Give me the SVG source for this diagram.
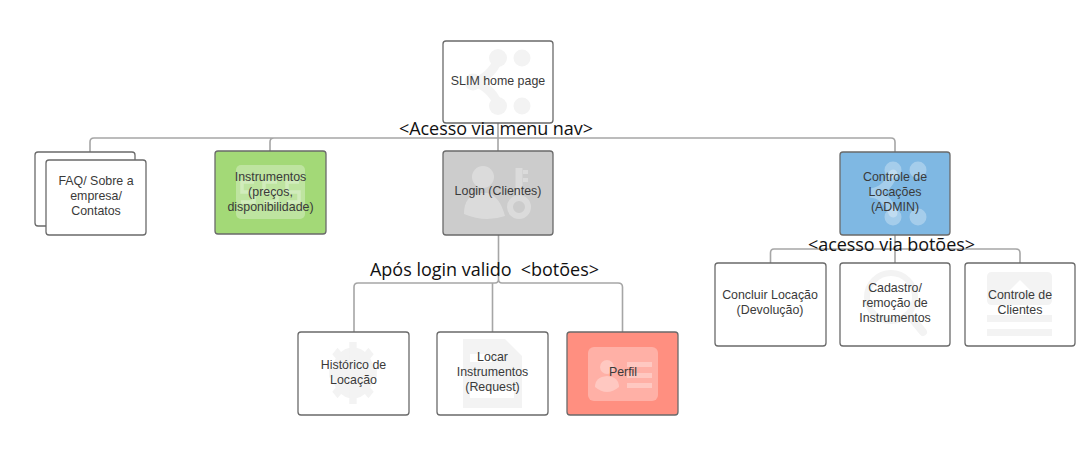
<svg xmlns="http://www.w3.org/2000/svg" width="1090" height="451" viewBox="0 0 1090 451">
<style>
.n{stroke:#6a6a6a;stroke-width:1.3;fill:#fff}
.c{fill:none;stroke:#a6a6a6;stroke-width:1.6}
.g{fill:#f3f3f3}
.wi{fill:#fff;fill-opacity:.3}
.gl{fill:none;stroke:#f3f3f3}
.wl{fill:none;stroke:#fff;stroke-opacity:.3}
text{font-family:"Liberation Sans",Arial,sans-serif;font-size:12.4px;fill:#3a3a3a;text-anchor:middle}
.o{font-family:"Open Sans","Noto Sans",sans-serif;font-size:18px;fill:#111}
</style>
<rect width="1090" height="451" fill="#fff"/>
<g id="connectors">
<path class="c" d="M498 123V151M90 152V142Q90 138 94 138H891Q895 138 895 142V152M270 151V142Q270 138 274 138"/>
<path class="c" d="M498.500 235V279Q498.500 283 502 283H618Q622.500 283 622.500 287V332M498.500 279Q498.500 283 495 283H358Q354 283 354 287V332M492.500 283V332"/>
<path class="c" d="M895 235V263M770.500 263V253Q770.500 249 774 249H1016Q1020 249 1020 253V263"/>
</g>
<g id="home">
<rect class="n" x="443" y="41" width="110" height="82" rx="3"/>
<g class="g"><circle cx="498" cy="58" r="9"/><circle cx="522" cy="58" r="8.500"/><circle cx="498" cy="106" r="9"/><circle cx="522" cy="106" r="8.500"/><circle cx="473" cy="82" r="8.500"/></g>
<path class="gl" stroke-width="9" d="M498 60Q490 78 473 82Q490 86 498 104"/>
<text x="498" y="85">SLIM home page</text>
</g>
<g id="faq">
<rect class="n" x="35" y="152" width="100" height="74" rx="3"/>
<rect class="n" x="46" y="160" width="100" height="75" rx="3"/>
<text x="96" y="185">FAQ/ Sobre a</text><text x="96" y="200">empresa/</text><text x="96" y="215">Contatos</text>
</g>
<g id="instrumentos">
<rect class="n" style="fill:#a3d977" x="215" y="151" width="111" height="83" rx="3"/>
<rect class="wi" x="236" y="165" width="69" height="54" rx="5"/>
<path class="wl" stroke-width="3.500" d="M254 182H242V192H254V202H241M277 182H264V192H277V202H264M299 182H287V192H299V202H287"/>
<text x="270.500" y="181">Instrumentos</text><text x="270.500" y="196">(preços,</text><text x="270.500" y="211">disponibilidade)</text>
</g>
<g id="login">
<rect class="n" style="fill:#cccccc" x="443" y="151" width="110" height="84" rx="3"/>
<g class="wi"><circle cx="483" cy="177" r="11"/><path d="M464 214Q464 195 480 193H488Q500 197 505 216Q485 223 464 214Z"/></g>
<path class="wl" stroke-width="7" d="M519 168V195"/><path class="wl" stroke-width="4" d="M523 172H528M523 180H528"/><circle class="wl" stroke-width="6" cx="519" cy="207" r="9"/>
<text x="498" y="195">Login (Clientes)</text>
</g>
<g id="controle">
<rect class="n" style="fill:#7fb8e3" x="840" y="152" width="110" height="83" rx="3"/>
<g class="wi"><circle cx="893" cy="170" r="8.500"/><circle cx="918" cy="170" r="8.500"/><circle cx="893" cy="217" r="8.500"/><circle cx="918" cy="217" r="8.500"/></g>
<path class="wl" stroke-width="9" stroke-linecap="round" d="M893 174Q886 192 870 193Q886 194 893 213"/>
<text x="895" y="181">Controle de</text><text x="895" y="196">Locações</text><text x="895" y="211">(ADMIN)</text>
</g>
<g id="concluir">
<rect class="n" x="715" y="263" width="111" height="83" rx="3"/>
<text x="770" y="299">Concluir Locação</text><text x="770" y="314">(Devolução)</text>
</g>
<g id="cadastro">
<rect class="n" x="840" y="263" width="110" height="83" rx="3"/>
<circle class="gl" stroke-width="6" cx="891" cy="297" r="24"/>
<path class="gl" stroke-width="8" stroke-linecap="round" d="M909 315L923 332"/>
<text x="895" y="292">Cadastro/</text><text x="895" y="307">remoção de</text><text x="895" y="322">Instrumentos</text>
</g>
<g id="clientes">
<rect class="n" x="965" y="263" width="110" height="83" rx="3"/>
<path class="g" d="M992 272H1047Q1052 272 1052 277V300Q1052 305 1047 305H992Q987 305 987 300V277Q987 272 992 272ZM987 315H1052V322H987ZM987 329H1052V336H987Z"/>
<path fill="#fff" d="M1009 291L1020 280L1031 291Z"/>
<text x="1020" y="299">Controle de</text><text x="1020" y="314">Clientes</text>
</g>
<g id="historico">
<rect class="n" x="298" y="332" width="111" height="83" rx="3"/>
<g transform="translate(353 373) scale(.82 1)">
<circle class="gl" stroke-width="17" r="17"/>
<path class="gl" stroke-width="9" d="M0 -31V31M-22 -22L22 22M22 -22L-22 22M-29 0H29"/>
</g>
<text x="353.500" y="369">Histórico de</text><text x="353.500" y="384">Locação</text>
</g>
<g id="locar">
<rect class="n" x="437" y="332" width="111" height="83" rx="3"/>
<path class="g" d="M463 339H505L522 356V408H463Z"/>
<rect fill="#fff" x="470" y="354" width="22" height="8"/><rect fill="#fff" x="470" y="390" width="44" height="8"/>
<text x="492.500" y="361">Locar</text><text x="492.500" y="376">Instrumentos</text><text x="492.500" y="391">(Request)</text>
</g>
<g id="perfil">
<rect class="n" style="fill:#ff8f80" x="567" y="332" width="111" height="83" rx="3"/>
<rect class="wi" x="588" y="347" width="70" height="54" rx="6"/>
<g class="wi"><circle cx="607" cy="367" r="7"/><path d="M595 387Q595 377 607 376Q619 377 619 387Q607 397 595 387Z"/><rect x="627" y="362" width="25" height="5"/><rect x="627" y="373" width="25" height="5"/><rect x="627" y="383" width="25" height="5"/></g>
<text x="623" y="376">Perfil</text>
</g>
<g id="overlay-labels">
<text class="o" x="496" y="135" textLength="194">&lt;Acesso via menu nav&gt;</text>
<text class="o" x="891.500" y="251" textLength="167">&lt;acesso via botões&gt;</text>
<text class="o" x="484.500" y="276" textLength="229" xml:space="preserve">Após login valido  &lt;botões&gt;</text>
</g>
</svg>
